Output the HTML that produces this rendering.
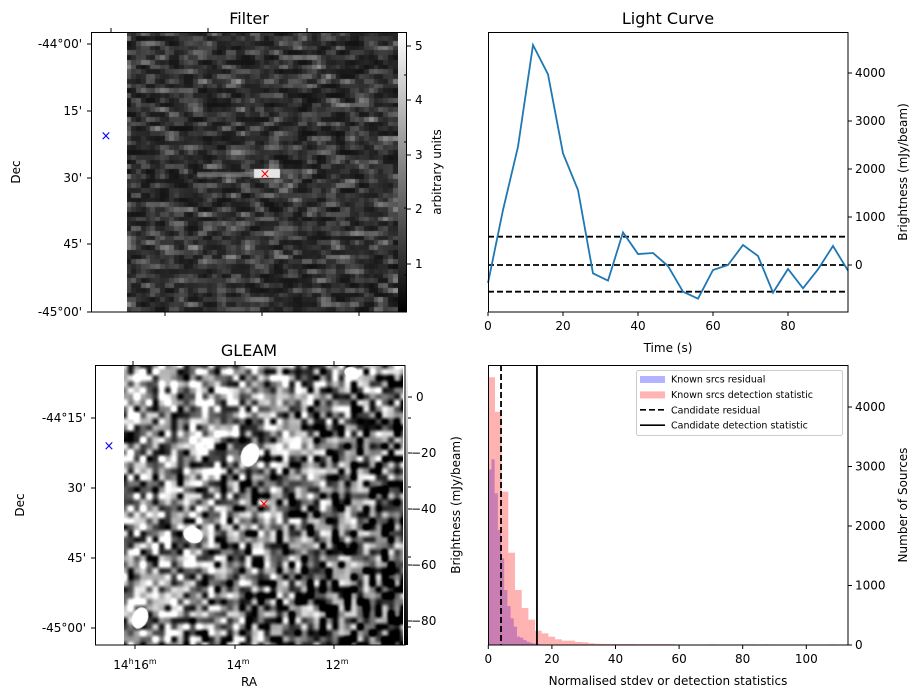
<!DOCTYPE html>
<html><head><meta charset="utf-8"><style>
body{margin:0;background:#fff;width:922px;height:699px;overflow:hidden;position:relative;font-family:"DejaVu Sans","Liberation Sans",sans-serif}
canvas{position:absolute}
svg{position:absolute;left:0;top:0}
text{font-family:"DejaVu Sans","Liberation Sans",sans-serif;fill:#000}
</style></head><body>
<canvas id="filterImg" width="271" height="280" style="left:127px;top:32px;width:271px;height:280px"></canvas>
<canvas id="filterCb" width="9" height="280" style="left:398px;top:32px;width:9px;height:280px"></canvas>
<canvas id="gleamImg" width="279" height="280" style="left:124px;top:365px;width:279px;height:280px"></canvas>
<canvas id="gleamCb" width="4" height="280" style="left:404px;top:365px;width:4px;height:280px"></canvas>
<svg id="s" width="922" height="699" xmlns="http://www.w3.org/2000/svg">
 <g>
  <text x="249" y="24" font-size="16" text-anchor="middle">Filter</text>
  <rect x="91.5" y="32.5" width="315" height="279.5" fill="none" stroke="#000" stroke-width="1"/>
  <g stroke="#000" stroke-width="1">
   <line x1="111" y1="32" x2="111" y2="28"/><line x1="208" y1="32" x2="208" y2="28"/><line x1="307" y1="32" x2="307" y2="28"/>
   <line x1="165" y1="312" x2="165" y2="316"/><line x1="262" y1="312" x2="262" y2="316"/><line x1="359" y1="312" x2="359" y2="316"/>
   <line x1="91" y1="44" x2="87" y2="44"/><line x1="91" y1="111" x2="87" y2="111"/><line x1="91" y1="178" x2="87" y2="178"/><line x1="91" y1="244" x2="87" y2="244"/><line x1="91" y1="312" x2="87" y2="312"/>
   <line x1="407" y1="46" x2="411" y2="46"/><line x1="407" y1="100" x2="411" y2="100"/><line x1="407" y1="155" x2="411" y2="155"/><line x1="407" y1="209" x2="411" y2="209"/><line x1="407" y1="264" x2="411" y2="264"/>
   <line x1="407" y1="75" x2="404" y2="75"/><line x1="407" y1="142" x2="404" y2="142"/><line x1="407" y1="208" x2="404" y2="208"/><line x1="407" y1="275" x2="404" y2="275"/>
  </g>
  <g font-size="12" text-anchor="end">
   <text x="82" y="48">-44°00'</text><text x="82" y="115">15'</text><text x="82" y="182">30'</text><text x="82" y="248">45'</text><text x="82" y="316">-45°00'</text>
  </g>
  <g font-size="12">
   <text x="415" y="50">5</text><text x="415" y="104">4</text><text x="415" y="159">3</text><text x="415" y="213">2</text><text x="415" y="268">1</text>
  </g>
  <text transform="translate(441,172) rotate(-90)" font-size="12" text-anchor="middle">arbitrary units</text>
  <text transform="translate(20,172) rotate(-90)" font-size="12" text-anchor="middle">Dec</text>
  <text x="106" y="140" font-size="13" style="fill:#0000ff" text-anchor="middle">×</text>
  <text x="265" y="178" font-size="13" style="fill:#ff0000" text-anchor="middle">×</text>
 </g>
 <g>
  <text x="249" y="356" font-size="16" text-anchor="middle">GLEAM</text>
  <rect x="95.5" y="365.5" width="309.5" height="279.5" fill="none" stroke="#000" stroke-width="1"/>
  <g stroke="#000" stroke-width="1">
   <line x1="133" y1="365" x2="133" y2="361"/><line x1="235" y1="365" x2="235" y2="361"/><line x1="334" y1="365" x2="334" y2="361"/>
   <line x1="135" y1="645" x2="135" y2="649"/><line x1="235" y1="645" x2="235" y2="649"/><line x1="334" y1="645" x2="334" y2="649"/>
   <line x1="95" y1="418" x2="91" y2="418"/><line x1="95" y1="488" x2="91" y2="488"/><line x1="95" y1="558" x2="91" y2="558"/><line x1="95" y1="628" x2="91" y2="628"/>
   <line x1="408" y1="397" x2="412" y2="397"/><line x1="408" y1="453" x2="412" y2="453"/><line x1="408" y1="509" x2="412" y2="509"/><line x1="408" y1="565" x2="412" y2="565"/><line x1="408" y1="621" x2="412" y2="621"/>
   <line x1="408" y1="418" x2="411" y2="418"/><line x1="408" y1="487" x2="411" y2="487"/><line x1="408" y1="557" x2="411" y2="557"/><line x1="408" y1="627" x2="411" y2="627"/>
  </g>
  <g font-size="12" text-anchor="end">
   <text x="86" y="422">-44°15'</text><text x="86" y="492">30'</text><text x="86" y="562">45'</text><text x="86" y="632">-45°00'</text>
  </g>
  <g font-size="12">
   <text x="135" y="669" text-anchor="middle">14<tspan font-size="8" dy="-5">h</tspan><tspan dy="5">16</tspan><tspan font-size="8" dy="-5">m</tspan></text>
   <text x="238" y="669" text-anchor="middle">14<tspan font-size="8" dy="-5">m</tspan></text>
   <text x="337" y="669" text-anchor="middle">12<tspan font-size="8" dy="-5">m</tspan></text>
  </g>
  <text x="249" y="686" font-size="12" text-anchor="middle">RA</text>
  <text transform="translate(24,505) rotate(-90)" font-size="12" text-anchor="middle">Dec</text>
  <g font-size="12">
   <text x="416" y="401">0</text><text x="411" y="457">−20</text><text x="411" y="513">−40</text><text x="411" y="569">−60</text><text x="411" y="625">−80</text>
  </g>
  <text transform="translate(460,505) rotate(-90)" font-size="12" text-anchor="middle">Brightness (mJy/beam)</text>
  <text x="109" y="450" font-size="13" style="fill:#0000ff" text-anchor="middle">×</text>
  <text x="264" y="508" font-size="13" style="fill:#ff0000" text-anchor="middle">×</text>
 </g>
 <g id="lc">
  <text x="668" y="24" font-size="16" text-anchor="middle">Light Curve</text>
  <text x="668" y="352" font-size="12" text-anchor="middle">Time (s)</text>
  <text transform="translate(907,172) rotate(-90)" font-size="12" text-anchor="middle">Brightness (mJy/beam)</text>
 </g>
 <g id="hist">
  <text x="668" y="685" font-size="12" text-anchor="middle">Normalised stdev or detection statistics</text>
  <text transform="translate(907,505) rotate(-90)" font-size="12" text-anchor="middle">Number of Sources</text>
 </g>
</svg>
<script>
const lcTimes = [0,4,8,12,16,20,24,28,32,36,40,44,48,52,56,60,64,68,72,76,80,84,88,92,96];
const lcValues = [-375,1146,2465,4583,3972,2326,1562,-174,-326,680,229,250,-21,-556,-701,-104,0,417,188,-576,-83,-486,-90,396,-118];
const lcThresholds = [590,0,-556];
const lcXTicks = [0,20,40,60,80];
const lcYTicks = [0,1000,2000,3000,4000];
const pinkBinWidth = 2.1;
const pinkCounts = [4500,3920,2577,1551,924,622,426,240,196,140,96,73,73,50,45,28,20,18,17,17,17,17,15,15,15,15,15,15,0,0,0,0,0,10,0,0,0,0,10,10,0,10,0,0,0,0,0,0,0,0,0,10];
const blueBinWidth = 1.0;
const blueCounts = [2950,3120,2549,1933,1457,924,655,448,308,140,123,84,56,39,25,15,10,8,5,4,3];
const candResidual = 4.0;
const candDetection = 15.3;
const histXTicks = [0,20,40,60,80,100];
const histYTicks = [0,1000,2000,3000,4000];

const NS='http://www.w3.org/2000/svg';
function mk(tag, attrs, parent){const e=document.createElementNS(NS,tag);for(const k in attrs)e.setAttribute(k,attrs[k]);parent.appendChild(e);return e;}

const lcX = t => 488 + t*3.75;
const lcY = v => 265 - v*0.048;
const lc = document.getElementById('lc');
lcThresholds.forEach(v=>{
  const l = mk('line',{x1:488,x2:848,y1:lcY(v),y2:lcY(v),stroke:'#000','stroke-width':1.8,'stroke-dasharray':'6,3'},lc);
  
  
});
const pl = mk('polyline',{points:lcTimes.map((t,i)=>lcX(t)+','+lcY(lcValues[i])).join(' '),fill:'none',stroke:'#1f77b4','stroke-width':1.8},lc);


mk('rect',{x:488.5,y:32.5,width:359.5,height:279.5,fill:'none',stroke:'#000'},lc);
lcXTicks.forEach(t=>{
  mk('line',{x1:lcX(t),x2:lcX(t),y1:312,y2:316,stroke:'#000'},lc);
  const tx = mk('text',{x:lcX(t),y:330,'font-size':12,'text-anchor':'middle'},lc);
  tx.textContent=t;
  
  
});
lcYTicks.forEach(v=>{
  mk('line',{x1:848,x2:852,y1:lcY(v),y2:lcY(v),stroke:'#000'},lc);
  const tx = mk('text',{x:855,y:lcY(v)+4,'font-size':12},lc);
  tx.textContent=v;
  
  
});

const hX = v => 488.3 + v*3.18;
const hY = c => 645 - c*0.0595;
const h = document.getElementById('hist');
blueCounts.forEach((c,i)=>{
  if(!c) return;
  const r = mk('rect',{x:hX(i*blueBinWidth),y:hY(c),width:blueBinWidth*3.18,height:645-hY(c),fill:'#0000ff','fill-opacity':0.3},h);
  
  
});
pinkCounts.forEach((c,i)=>{
  if(!c) return;
  const r = mk('rect',{x:hX(i*pinkBinWidth),y:hY(c),width:pinkBinWidth*3.18,height:645-hY(c),fill:'#ff0000','fill-opacity':0.3},h);
  
  
});
const dl = mk('line',{x1:hX(candResidual),x2:hX(candResidual),y1:365,y2:645,stroke:'#000','stroke-width':1.8,'stroke-dasharray':'6,3'},h);


const sl = mk('line',{x1:hX(candDetection),x2:hX(candDetection),y1:365,y2:645,stroke:'#000','stroke-width':1.8},h);


mk('rect',{x:488.5,y:365.5,width:359.5,height:279.5,fill:'none',stroke:'#000'},h);
histXTicks.forEach(t=>{
  mk('line',{x1:hX(t),x2:hX(t),y1:645,y2:649,stroke:'#000'},h);
  const tx = mk('text',{x:hX(t),y:663,'font-size':12,'text-anchor':'middle'},h);
  tx.textContent=t;
  
  
});
histYTicks.forEach(v=>{
  mk('line',{x1:848,x2:852,y1:hY(v),y2:hY(v),stroke:'#000'},h);
  const tx = mk('text',{x:855,y:hY(v)+4,'font-size':12},h);
  tx.textContent=v;
  
  
});
const lg = mk('g',{},h);


mk('rect',{x:636.5,y:370.5,width:206,height:65,rx:2,fill:'#fff','fill-opacity':0.8,stroke:'#ccc'},lg);
const legItems=[['patch','#b3b3ff','Known srcs residual'],['patch','#ffb3b3','Known srcs detection statistic'],['dash','','Candidate residual'],['line','','Candidate detection statistic']];
legItems.forEach((it,i)=>{
  const y=379+i*15.4;
  if(it[0]==='patch') mk('rect',{x:640,y:y-3,width:25,height:7,fill:it[1]},lg);
  else mk('line',{x1:640,x2:665,y1:y,y2:y,stroke:'#000','stroke-width':1.6,'stroke-dasharray':it[0]==='dash'?'6,3':'none'},lg);
  const tx=mk('text',{x:671,y:y+3.5,'font-size':9.5},lg);
  tx.textContent=it[2];
  
  
});

// ---- Image textures (deterministic pseudo-noise, raster backgrounds) ----
let seed=12345;
function rnd(){seed=(seed*1103515245+12345)&0x7fffffff;return seed/0x7fffffff;}
(function(){
  const c=document.getElementById('filterImg').getContext('2d');
  const cols=57, rows=59, cw=271/cols, ch=280/rows;
  const g=[];
  for(let r=0;r<rows;r++){g[r]=[];for(let k=0;k<cols;k++){g[r][k]=rnd();}}
  for(let r=0;r<rows;r++)for(let k=0;k<cols;k++){
    const a=g[r][k], b=g[r][Math.max(0,k-1)], d=g[r][Math.min(cols-1,k+1)];
    let v=(a*0.5+b*0.25+d*0.25);
    let gray=Math.round(18+Math.pow(v,2.2)*140);
    c.fillStyle='rgb('+gray+','+gray+','+gray+')';
    c.fillRect(Math.floor(k*cw),Math.floor(r*ch),Math.ceil(cw)+1,Math.ceil(ch)+1);
  }
  c.fillStyle='rgba(140,140,140,0.6)';c.fillRect(70,140,60,5);
  c.fillStyle='#e6e6e6';c.fillRect(127,137,26,9);
  const cb=document.getElementById('filterCb').getContext('2d');
  const gr=cb.createLinearGradient(0,0,0,280);gr.addColorStop(0,'#fff');gr.addColorStop(1,'#000');
  cb.fillStyle=gr;cb.fillRect(0,0,9,280);
})();
(function(){
  const cv=document.getElementById('gleamImg'), c=cv.getContext('2d');
  const W=279,H=280,N=46;
  const g=[];for(let r=0;r<=N;r++){g[r]=[];for(let k=0;k<=N;k++)g[r][k]=rnd();}
  const sm=t=>t*t*(3-2*t);
  const img=c.createImageData(W,H);
  for(let y=0;y<H;y++)for(let x=0;x<W;x++){
    const fx=x/W*(N-1), fy=y/H*(N-1);
    const i=Math.floor(fx), j=Math.floor(fy), tx=sm(fx-i), ty=sm(fy-j);
    const v=(g[j][i]*(1-tx)+g[j][i+1]*tx)*(1-ty)+(g[j+1][i]*(1-tx)+g[j+1][i+1]*tx)*ty;
    const grad=0.62-0.45*(x/W)*(0.3+0.7*y/H);
    let val=(v-0.5)*1.3+grad;
    let gray=Math.max(0,Math.min(255,Math.round(val*255)));
    const p=(y*W+x)*4;img.data[p]=img.data[p+1]=img.data[p+2]=gray;img.data[p+3]=255;
  }
  c.putImageData(img,0,0);
  c.fillStyle='#fff';
  [[126,90,9,12],[69,170,10,8],[16,253,8,11],[228,8,8,6]].forEach(e=>{c.beginPath();c.ellipse(e[0],e[1],e[2],e[3],0.4,0,Math.PI*2);c.fill();});
  const cb=document.getElementById('gleamCb').getContext('2d');
  const gr=cb.createLinearGradient(0,0,0,280);gr.addColorStop(0,'#fff');gr.addColorStop(1,'#000');
  cb.fillStyle=gr;cb.fillRect(0,0,4,280);
})();
</script>
</body></html>
